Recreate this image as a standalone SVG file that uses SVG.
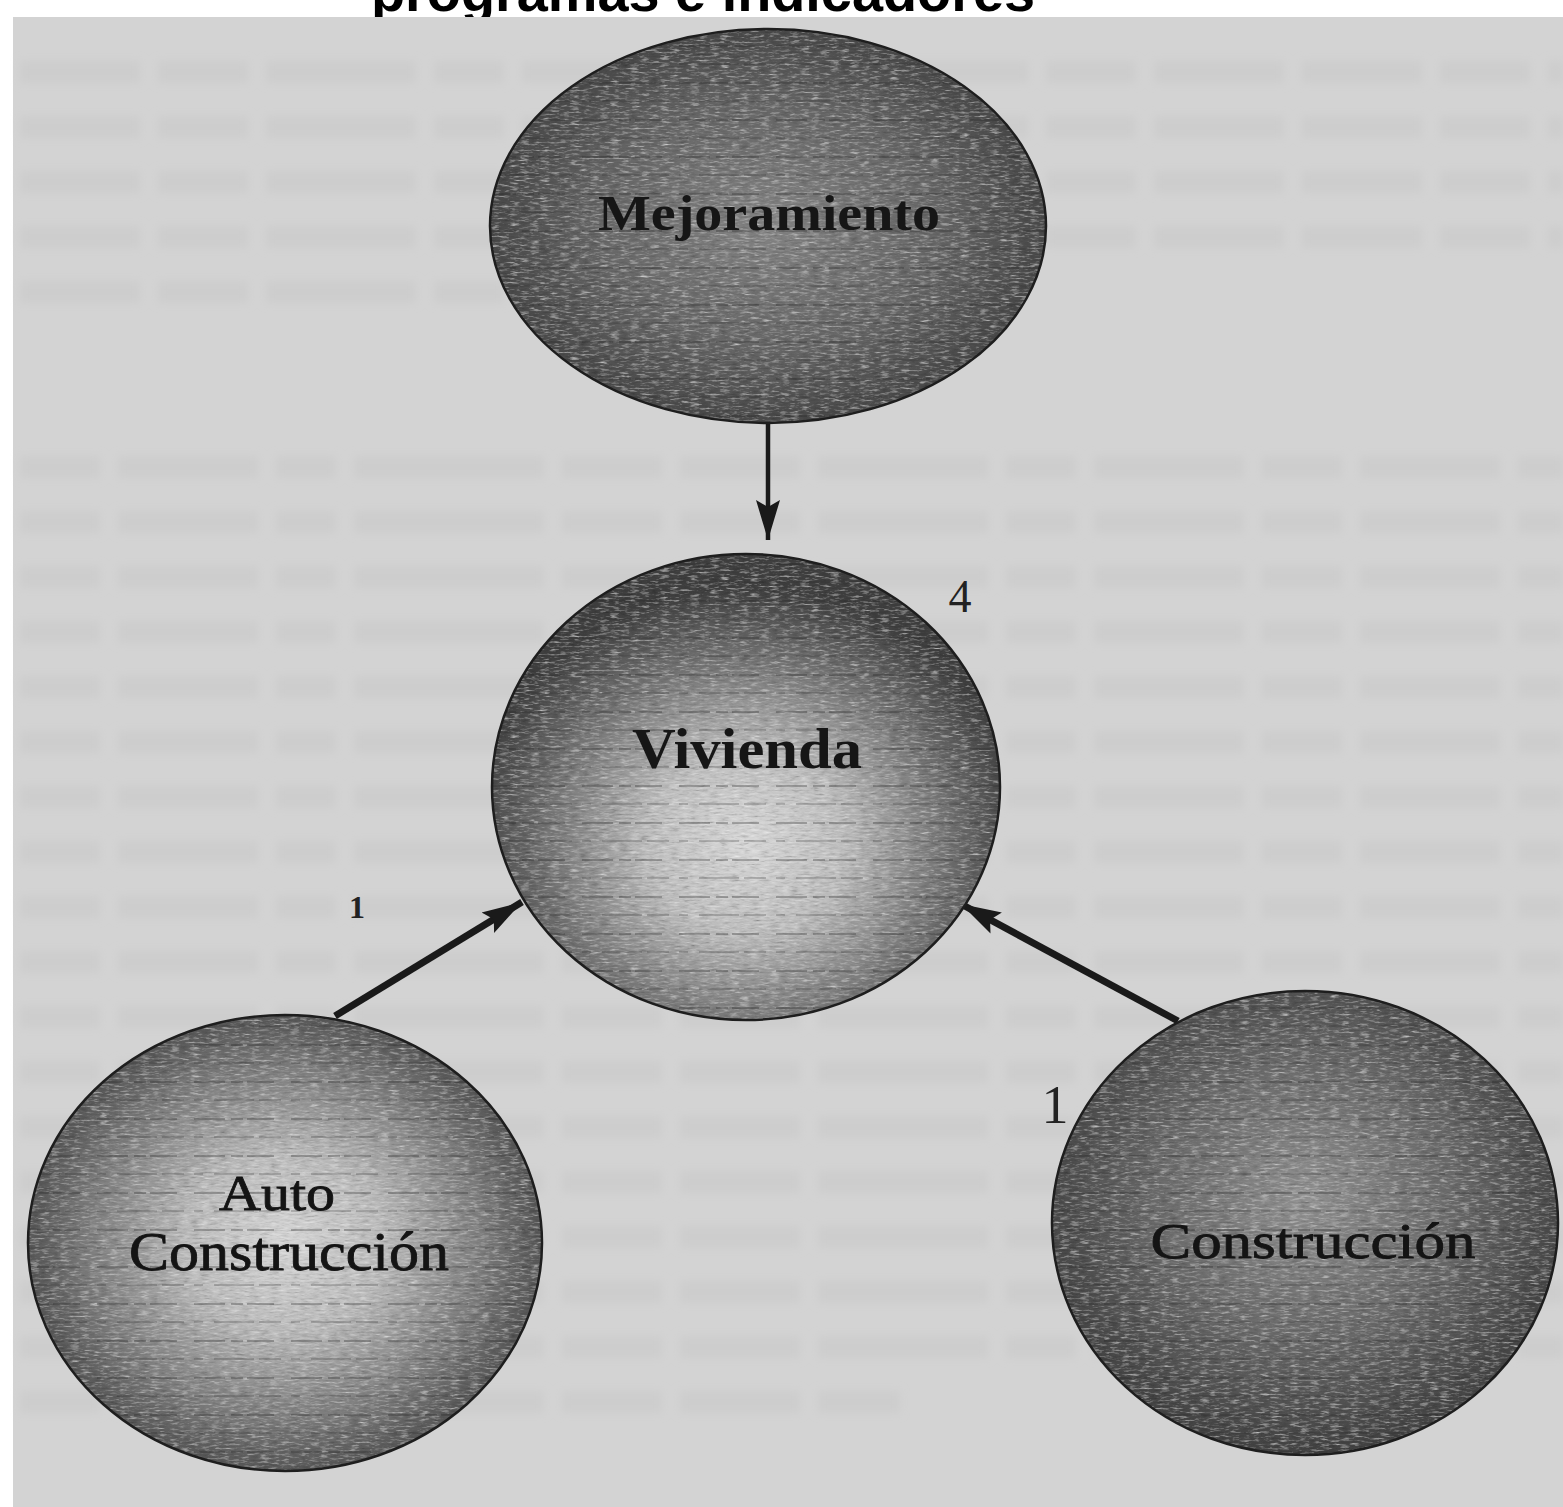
<svg xmlns="http://www.w3.org/2000/svg" width="1563" height="1507" viewBox="0 0 1563 1507">
<style>
.lbl{font-family:"Liberation Serif","Times New Roman",serif;font-weight:bold;fill:#161616;text-anchor:middle}
.lbl2{font-family:"Liberation Serif","Times New Roman",serif;font-weight:normal;fill:#141414;text-anchor:middle;stroke:#141414;stroke-width:0.8}
.num{font-family:"Liberation Serif","Times New Roman",serif;fill:#222;text-anchor:middle}
.edge{stroke:#1e1e1e;stroke-width:2.5}
.conn{stroke:#1a1a1a;fill:none}
.bgtxt{stroke:#cdcdcd;stroke-width:22;fill:none;filter:url(#blur)}
</style>
<defs>
<filter id="blur" x="-5%" y="-50%" width="110%" height="200%"><feGaussianBlur stdDeviation="4"/></filter>
<filter id="tex" x="0" y="0" width="100%" height="100%">
<feTurbulence type="fractalNoise" baseFrequency="0.1 0.5" numOctaves="3" seed="7" result="noise"/>
<feColorMatrix in="noise" type="saturate" values="0" result="g"/>
<feBlend in="SourceGraphic" in2="g" mode="overlay" result="b"/>
<feComposite in="b" in2="SourceGraphic" operator="in"/>
</filter>
<pattern id="streaks" width="97" height="37" patternUnits="userSpaceOnUse">
<line x1="0" y1="9" x2="97" y2="9" stroke="#262626" stroke-width="1.6" stroke-dasharray="31 6 12 4 27 17" opacity="0.4"/>
<line x1="0" y1="27" x2="97" y2="27" stroke="#2a2a2a" stroke-width="1.4" stroke-dasharray="9 11 40 5 22 10" opacity="0.3"/>
</pattern>
<radialGradient id="gMej" cx="50%" cy="50%" r="55%">
<stop offset="0" stop-color="#858585"/><stop offset="0.55" stop-color="#686868"/><stop offset="1" stop-color="#424242"/>
</radialGradient>
<radialGradient id="gViv" cx="50%" cy="62%" r="55%">
<stop offset="0" stop-color="#d6d6d6"/><stop offset="0.35" stop-color="#bdbdbd"/><stop offset="0.7" stop-color="#777"/><stop offset="1" stop-color="#404040"/>
</radialGradient>
<radialGradient id="gAuto" cx="50%" cy="50%" r="55%">
<stop offset="0" stop-color="#d4d4d4"/><stop offset="0.35" stop-color="#bababa"/><stop offset="0.72" stop-color="#7a7a7a"/><stop offset="1" stop-color="#464646"/>
</radialGradient>
<radialGradient id="gCons" cx="50%" cy="45%" r="55%">
<stop offset="0" stop-color="#929292"/><stop offset="0.5" stop-color="#6e6e6e"/><stop offset="1" stop-color="#424242"/>
</radialGradient>
<marker id="arr" markerUnits="userSpaceOnUse" markerWidth="44" markerHeight="30" refX="40" refY="15" orient="auto">
<path d="M0,3 L40,15 L0,27 L7,15 Z" fill="#1a1a1a"/>
</marker>
</defs>

<rect x="0" y="0" width="1563" height="1507" fill="#ffffff"/>
<text x="371" y="11" font-family="Liberation Sans, Arial, sans-serif" font-weight="bold" font-size="56" textLength="664" lengthAdjust="spacingAndGlyphs" fill="#000">programas e indicadores</text>
<rect x="13" y="17" width="1550" height="1490" fill="#d3d3d3"/>

<g id="background-lines">
<path class="bgtxt" stroke-dasharray="120 18 90 18 150 18 70 18 200 18 110 18 160 18 90 18 130 18" d="M20,72 H1563 M20,127 H1563 M20,182 H1563 M20,237 H1563 M20,292 H700"/>
<path class="bgtxt" stroke-dasharray="80 18 140 18 60 18 190 18 100 18 120 18 170 18 70 18 150 18" d="M20,467 H1563 M20,522 H1563 M20,577 H1563 M20,632 H1563 M20,687 H1563 M20,742 H1563 M20,797 H1563 M20,852 H1563 M20,907 H1563 M20,962 H1563 M20,1017 H1563 M20,1072 H1563 M20,1127 H1563 M20,1182 H1563 M20,1237 H1563 M20,1292 H1563 M20,1347 H1563 M20,1402 H900"/>
</g>

<g id="connectors">
<line class="conn" x1="768" y1="424" x2="768" y2="540" stroke-width="4.5" marker-end="url(#arr)"/>
<line class="conn" x1="335" y1="1016" x2="522" y2="902" stroke-width="7" marker-end="url(#arr)"/>
<line class="conn" x1="1178" y1="1021" x2="961" y2="904" stroke-width="7" marker-end="url(#arr)"/>
</g>

<g id="node-mejoramiento">
<ellipse cx="768" cy="226" rx="278" ry="197" fill="url(#gMej)" filter="url(#tex)"/>
<ellipse cx="768" cy="226" rx="278" ry="197" fill="url(#streaks)"/>
<ellipse class="edge" cx="768" cy="226" rx="278" ry="197" fill="none"/>
<text class="lbl" x="769" y="230" font-size="50" textLength="342" lengthAdjust="spacingAndGlyphs">Mejoramiento</text>
</g>

<g id="node-vivienda">
<ellipse cx="746" cy="787" rx="254" ry="233" fill="url(#gViv)" filter="url(#tex)"/>
<ellipse cx="746" cy="787" rx="254" ry="233" fill="url(#streaks)"/>
<ellipse class="edge" cx="746" cy="787" rx="254" ry="233" fill="none"/>
<text class="lbl" x="747" y="768" font-size="56" textLength="230" lengthAdjust="spacingAndGlyphs">Vivienda</text>
<text class="num" x="960" y="612" font-size="46">4</text>
</g>

<g id="node-autoconstruccion">
<ellipse cx="285" cy="1243" rx="257" ry="228" fill="url(#gAuto)" filter="url(#tex)"/>
<ellipse cx="285" cy="1243" rx="257" ry="228" fill="url(#streaks)"/>
<ellipse class="edge" cx="285" cy="1243" rx="257" ry="228" fill="none"/>
<text class="lbl2" x="277" y="1210" font-size="50" textLength="116" lengthAdjust="spacingAndGlyphs">Auto</text>
<text class="lbl2" x="289" y="1270" font-size="54" textLength="320" lengthAdjust="spacingAndGlyphs">Construcción</text>
<text class="num" x="357" y="918" font-size="32" font-weight="bold">1</text>
</g>

<g id="node-construccion">
<ellipse cx="1305" cy="1223" rx="253" ry="232" fill="url(#gCons)" filter="url(#tex)"/>
<ellipse cx="1305" cy="1223" rx="253" ry="232" fill="url(#streaks)"/>
<ellipse class="edge" cx="1305" cy="1223" rx="253" ry="232" fill="none"/>
<text class="lbl2" x="1313" y="1258" font-size="50" textLength="325" lengthAdjust="spacingAndGlyphs">Construcción</text>
<text class="num" x="1055" y="1123" font-size="54">1</text>
</g>
</svg>
